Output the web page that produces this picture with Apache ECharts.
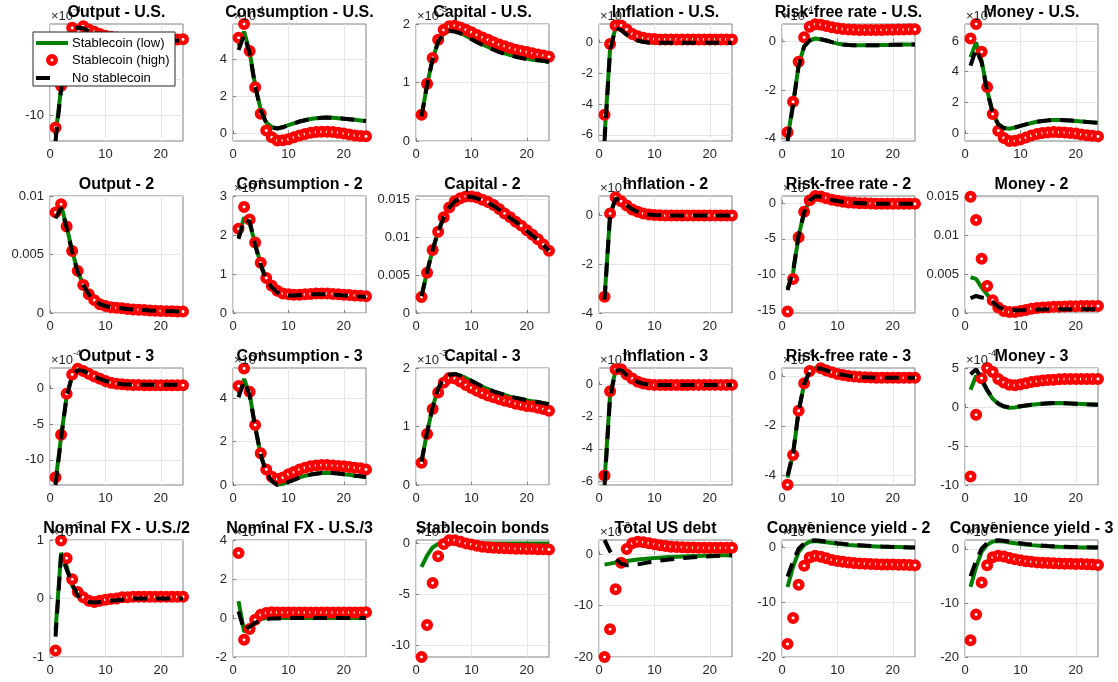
<!DOCTYPE html>
<html><head><meta charset="utf-8">
<script src="https://cdn.jsdelivr.net/npm/echarts@6/dist/echarts.min.js"></script>
<style>html,body{margin:0;padding:0;background:#fff}#c{width:1118px;height:682px}</style>
</head><body><div id="c"></div>
<script>
// ---------- DATA (quarters 1..24) ----------
const seriesNames = ['Stablecoin (low)', 'Stablecoin (high)', 'No stablecoin'];
const xTicks = [0, 10, 20];

// Row 1
const outUS_low  = [-12.8,-6.2,-1.2,1.7,2.35,2.25,1.85,1.45,1.15,0.95,0.8,0.7,0.62,0.57,0.54,0.52,0.51,0.5,0.5,0.5,0.5,0.5,0.5,0.5];
const outUS_high = [-11.7,-5.9,-1.0,2.26,2.85,2.5,2.04,1.7,1.4,1.15,1.0,0.9,0.82,0.76,0.72,0.69,0.67,0.65,0.64,0.63,0.63,0.63,0.64,0.65];
const outUS_none = [-13.6,-6.4,-1.3,1.6,2.3,2.2,1.8,1.4,1.1,0.9,0.75,0.65,0.58,0.54,0.52,0.51,0.5,0.5,0.5,0.5,0.5,0.5,0.5,0.5];

const consUS_low  = [4.7,5.5,4.4,2.6,1.3,0.6,0.35,0.28,0.35,0.45,0.55,0.65,0.72,0.78,0.82,0.85,0.86,0.85,0.83,0.8,0.77,0.74,0.71,0.68];
const consUS_high = [5.16,5.9,4.45,2.5,1.07,0.16,-0.2,-0.37,-0.36,-0.3,-0.2,-0.1,-0.02,0.04,0.08,0.1,0.1,0.08,0.05,0.0,-0.05,-0.1,-0.13,-0.15];
const consUS_none = [4.5,5.3,4.35,2.55,1.25,0.58,0.33,0.27,0.34,0.45,0.55,0.65,0.72,0.78,0.82,0.85,0.86,0.85,0.83,0.8,0.77,0.74,0.71,0.68];

const capUS_low  = [0.42,0.96,1.4,1.7,1.83,1.88,1.88,1.85,1.8,1.75,1.7,1.65,1.61,1.57,1.53,1.5,1.47,1.45,1.43,1.41,1.39,1.38,1.37,1.35];
const capUS_high = [0.45,0.98,1.42,1.73,1.9,1.96,1.97,1.94,1.9,1.86,1.81,1.77,1.73,1.69,1.65,1.62,1.59,1.56,1.54,1.52,1.5,1.48,1.46,1.44];
const capUS_none = [0.42,0.96,1.4,1.7,1.83,1.88,1.87,1.84,1.79,1.74,1.69,1.64,1.6,1.56,1.52,1.49,1.46,1.44,1.42,1.4,1.39,1.38,1.37,1.35];

const infUS_low  = [-6.1,-0.4,0.95,0.82,0.52,0.32,0.14,0.04,0.0,-0.02,-0.02,-0.02,-0.02,-0.02,-0.02,-0.02,-0.02,-0.02,-0.02,-0.02,-0.02,-0.02,-0.02,-0.02];
const infUS_high = [-4.7,-0.1,1.1,1.1,0.85,0.55,0.4,0.3,0.25,0.22,0.2,0.2,0.2,0.2,0.2,0.2,0.2,0.2,0.2,0.2,0.2,0.2,0.2,0.2];
const infUS_none = [-6.4,-0.5,0.95,0.8,0.5,0.3,0.12,0.03,0.0,-0.02,-0.02,-0.02,-0.02,-0.02,-0.02,-0.02,-0.02,-0.02,-0.02,-0.02,-0.02,-0.02,-0.02,-0.02];

const rfUS_low  = [-4.0,-2.55,-0.98,-0.18,0.06,0.13,0.1,0.05,-0.02,-0.08,-0.12,-0.14,-0.15,-0.15,-0.15,-0.15,-0.15,-0.14,-0.14,-0.13,-0.13,-0.12,-0.12,-0.12];
const rfUS_high = [-3.74,-2.48,-0.83,0.18,0.62,0.72,0.7,0.65,0.6,0.55,0.52,0.5,0.49,0.48,0.48,0.48,0.48,0.48,0.49,0.49,0.5,0.5,0.51,0.51];
const rfUS_none = [-4.1,-2.6,-1.0,-0.2,0.05,0.12,0.1,0.05,-0.02,-0.08,-0.12,-0.14,-0.15,-0.15,-0.15,-0.15,-0.15,-0.14,-0.14,-0.13,-0.13,-0.12,-0.12,-0.12];

const monUS_low  = [4.95,5.9,4.7,2.8,1.35,0.6,0.35,0.3,0.38,0.48,0.58,0.67,0.75,0.8,0.84,0.86,0.86,0.85,0.83,0.8,0.77,0.74,0.71,0.68];
const monUS_high = [6.16,7.1,5.3,3.0,1.25,0.17,-0.3,-0.5,-0.48,-0.4,-0.28,-0.15,-0.05,0.02,0.06,0.08,0.07,0.05,0.02,-0.02,-0.08,-0.12,-0.16,-0.2];
const monUS_none = [4.4,5.5,4.6,2.75,1.3,0.58,0.34,0.3,0.38,0.48,0.58,0.67,0.75,0.8,0.84,0.86,0.86,0.85,0.83,0.8,0.77,0.74,0.71,0.68];

// Row 2
const out2_low  = [0.0083,0.0092,0.0074,0.0053,0.0036,0.0024,0.0016,0.0011,0.00075,0.0006,0.0005,0.00045,0.0004,0.00035,0.0003,0.00028,0.00025,0.00022,0.0002,0.00018,0.00016,0.00015,0.00013,0.00012];
const out2_high = [0.0086,0.0093,0.0074,0.0053,0.0036,0.0024,0.0016,0.0011,0.00075,0.0006,0.0005,0.00045,0.0004,0.00035,0.0003,0.00028,0.00025,0.00022,0.0002,0.00018,0.00016,0.00015,0.00013,0.00012];
const out2_none = [0.0081,0.009,0.0073,0.0052,0.0035,0.0024,0.0016,0.0011,0.00075,0.0006,0.0005,0.00045,0.0004,0.00035,0.0003,0.00028,0.00025,0.00022,0.0002,0.00018,0.00016,0.00015,0.00013,0.00012];

const cons2_low  = [1.95,2.45,2.3,1.78,1.25,0.88,0.67,0.54,0.48,0.46,0.45,0.46,0.47,0.48,0.48,0.48,0.48,0.47,0.46,0.45,0.44,0.43,0.42,0.41];
const cons2_high = [2.16,2.72,2.4,1.81,1.29,0.9,0.7,0.57,0.5,0.48,0.47,0.47,0.48,0.49,0.5,0.5,0.5,0.49,0.48,0.47,0.46,0.45,0.44,0.43];
const cons2_none = [1.9,2.4,2.35,1.75,1.22,0.86,0.66,0.53,0.47,0.45,0.45,0.46,0.47,0.48,0.48,0.48,0.48,0.47,0.46,0.45,0.44,0.43,0.42,0.41];

const cap2_low  = [0.0022,0.0054,0.0083,0.0107,0.0126,0.0139,0.0147,0.0151,0.0153,0.0153,0.0151,0.0148,0.0145,0.0141,0.0136,0.0131,0.0125,0.012,0.0114,0.0108,0.0102,0.0096,0.0089,0.0082];
const cap2_high = [0.0021,0.0053,0.0083,0.0107,0.0126,0.0139,0.0147,0.0151,0.01535,0.01535,0.0152,0.0149,0.0146,0.0142,0.0137,0.0131,0.0126,0.012,0.0115,0.0109,0.0103,0.0097,0.009,0.0082];
const cap2_none = [0.0022,0.0054,0.0083,0.0107,0.0126,0.0139,0.0147,0.0151,0.0153,0.0153,0.0151,0.0148,0.0145,0.0141,0.0136,0.0131,0.0125,0.012,0.0114,0.0108,0.0102,0.0096,0.0089,0.0082];

const inf2_low  = [-3.4,0.05,0.72,0.6,0.42,0.25,0.15,0.08,0.04,0.02,0.01,0,0,0,0,0,0,0,0,0,0,0,0,0];
const inf2_high = [-3.33,0.08,0.75,0.58,0.41,0.25,0.15,0.08,0.04,0.02,0.01,0,0,0,0,0,0,0,0,0,0,0,0,0];
const inf2_none = [-3.45,0.0,0.7,0.6,0.42,0.25,0.15,0.08,0.04,0.02,0.01,0,0,0,0,0,0,0,0,0,0,0,0,0];

const rf2_low  = [-12.0,-9.8,-4.6,-1.25,0.42,0.97,0.9,0.68,0.45,0.3,0.18,0.1,0.04,0.0,-0.03,-0.05,-0.07,-0.08,-0.09,-0.1,-0.1,-0.1,-0.1,-0.1];
const rf2_high = [-15.2,-10.65,-4.77,-1.2,0.42,1.0,0.93,0.7,0.46,0.32,0.19,0.1,0.05,0.0,-0.03,-0.05,-0.07,-0.08,-0.1,-0.1,-0.1,-0.1,-0.1,-0.1];
const rf2_none = [-12.2,-9.5,-4.5,-1.3,0.4,0.95,0.9,0.68,0.45,0.3,0.18,0.1,0.04,0.0,-0.03,-0.05,-0.07,-0.08,-0.09,-0.1,-0.1,-0.1,-0.1,-0.1];

const mon2_low  = [0.0046,0.0044,0.0033,0.0024,0.0015,0.0008,0.0005,0.0004,0.00038,0.0004,0.00042,0.00044,0.00046,0.00048,0.0005,0.0005,0.0005,0.0005,0.0005,0.0005,0.0005,0.0005,0.0005,0.0005];
const mon2_high = [0.015,0.012,0.007,0.00347,0.00163,0.0007,0.00026,0.00013,0.00013,0.00026,0.0004,0.00056,0.00065,0.0007,0.00075,0.0008,0.00082,0.00085,0.00087,0.00088,0.0009,0.0009,0.0009,0.0009];
const mon2_none = [0.0019,0.0022,0.002,0.0019,0.0014,0.0008,0.0005,0.0004,0.00035,0.00037,0.0004,0.00042,0.00044,0.00046,0.00048,0.0005,0.0005,0.0005,0.0005,0.0005,0.0005,0.0005,0.0005,0.0005];

// Row 3
const out3_low  = [-13.0,-6.8,-1.1,1.75,2.5,2.4,2.0,1.6,1.3,1.0,0.8,0.65,0.55,0.5,0.48,0.47,0.46,0.45,0.45,0.45,0.45,0.45,0.45,0.45];
const out3_high = [-12.43,-6.5,-0.78,1.91,2.7,2.37,2.0,1.63,1.3,0.98,0.75,0.6,0.52,0.47,0.44,0.42,0.41,0.4,0.4,0.4,0.4,0.4,0.4,0.4];
const out3_none = [-13.5,-7.0,-1.2,1.7,2.5,2.4,2.0,1.6,1.3,1.0,0.8,0.65,0.55,0.5,0.48,0.47,0.46,0.45,0.45,0.45,0.45,0.45,0.45,0.45];

const cons3_low  = [4.2,4.9,4.2,2.7,1.4,0.6,0.2,0.02,0.05,0.15,0.25,0.35,0.42,0.48,0.52,0.55,0.56,0.55,0.53,0.5,0.47,0.43,0.4,0.37];
const cons3_high = [4.57,5.38,4.3,2.77,1.46,0.72,0.38,0.28,0.35,0.5,0.6,0.72,0.8,0.87,0.9,0.92,0.92,0.9,0.88,0.86,0.83,0.8,0.77,0.72];
const cons3_none = [4.05,4.8,4.15,2.68,1.38,0.58,0.18,0.0,0.04,0.14,0.24,0.34,0.42,0.48,0.52,0.55,0.56,0.55,0.53,0.5,0.47,0.43,0.4,0.37];

const cap3_low  = [0.4,0.9,1.33,1.65,1.82,1.88,1.9,1.87,1.83,1.78,1.73,1.68,1.64,1.6,1.57,1.54,1.51,1.49,1.47,1.45,1.43,1.42,1.4,1.38];
const cap3_high = [0.38,0.87,1.3,1.58,1.75,1.83,1.82,1.77,1.71,1.66,1.61,1.57,1.53,1.5,1.47,1.44,1.42,1.39,1.37,1.35,1.34,1.32,1.3,1.27];
const cap3_none = [0.4,0.9,1.33,1.65,1.82,1.88,1.9,1.87,1.83,1.78,1.73,1.68,1.64,1.6,1.57,1.54,1.51,1.49,1.47,1.45,1.43,1.42,1.4,1.38];

const inf3_low  = [-6.0,-0.6,0.88,0.9,0.6,0.35,0.15,0.05,0.0,-0.02,-0.03,-0.03,-0.03,-0.03,-0.03,-0.03,-0.02,-0.02,-0.02,-0.02,-0.02,-0.02,-0.02,-0.02];
const inf3_high = [-5.66,-0.42,0.95,0.95,0.63,0.38,0.17,0.06,0.0,-0.02,-0.03,-0.03,-0.03,-0.03,-0.03,-0.03,-0.02,-0.02,-0.02,-0.02,-0.02,-0.02,-0.02,-0.02];
const inf3_none = [-6.25,-0.8,0.85,0.9,0.6,0.35,0.15,0.05,0.0,-0.02,-0.03,-0.03,-0.03,-0.03,-0.03,-0.03,-0.02,-0.02,-0.02,-0.02,-0.02,-0.02,-0.02,-0.02];

const rf3_low  = [-4.1,-3.15,-1.4,-0.3,0.21,0.35,0.33,0.25,0.17,0.11,0.07,0.03,0.0,-0.02,-0.03,-0.04,-0.05,-0.05,-0.05,-0.05,-0.05,-0.05,-0.05,-0.05];
const rf3_high = [-4.39,-3.18,-1.39,-0.27,0.23,0.37,0.34,0.25,0.18,0.11,0.07,0.03,0.0,-0.02,-0.03,-0.04,-0.05,-0.05,-0.05,-0.05,-0.05,-0.05,-0.05,-0.05];
const rf3_none = [-4.02,-3.1,-1.4,-0.3,0.2,0.35,0.33,0.25,0.17,0.11,0.07,0.03,0.0,-0.02,-0.03,-0.04,-0.05,-0.05,-0.05,-0.05,-0.05,-0.05,-0.05,-0.05];

const mon3_low  = [2.2,4.0,3.4,2.1,1.05,0.4,0.05,-0.1,-0.05,0.07,0.18,0.28,0.36,0.42,0.46,0.49,0.5,0.48,0.46,0.43,0.4,0.36,0.33,0.3];
const mon3_high = [-8.9,-1.0,3.7,5.0,4.5,3.6,3.15,2.85,2.8,2.9,3.05,3.2,3.3,3.4,3.45,3.5,3.55,3.58,3.6,3.6,3.6,3.6,3.6,3.6];
const mon3_none = [4.2,4.85,3.6,2.2,1.1,0.45,0.1,-0.05,0.0,0.1,0.2,0.3,0.38,0.43,0.47,0.5,0.5,0.48,0.46,0.43,0.4,0.36,0.33,0.3];

// Row 4
const fx2_low  = [-0.55,0.78,0.55,0.22,0.05,-0.03,-0.06,-0.07,-0.06,-0.05,-0.04,-0.03,-0.02,-0.01,0,0,0,0,0,0,0,0,0,0];
const fx2_high = [-0.89,0.99,0.69,0.33,0.11,0.02,-0.04,-0.06,-0.04,-0.02,-0.01,0.0,0.02,0.02,0.03,0.03,0.03,0.03,0.03,0.03,0.03,0.03,0.03,0.03];
const fx2_none = [-0.65,0.75,0.5,0.25,0.05,-0.03,-0.06,-0.07,-0.06,-0.05,-0.04,-0.03,-0.02,-0.01,0,0,0,0,0,0,0,0,0,0];

const fx3_low  = [0.86,-0.7,-0.5,-0.15,-0.05,0,0,0,0,0,0,0,0,0,0,0,0,0,0,0,0,0,0,0];
const fx3_high = [3.33,-1.12,-0.57,-0.09,0.17,0.26,0.29,0.28,0.28,0.28,0.28,0.28,0.28,0.28,0.28,0.28,0.28,0.28,0.28,0.28,0.28,0.28,0.28,0.29];
const fx3_none = [0.34,-0.64,-0.45,-0.25,-0.12,-0.06,-0.03,-0.02,-0.01,0,0,0,0,0,0,0,0,0,0,0,0,0,0,0];

const sb_low  = [-2.3,-1.2,-0.4,-0.05,0.05,0.05,0.03,0.02,0.01,0,0,0,0,0,0,0,0,0,0,0,0,0,0,0];
const sb_high = [-11.1,-7.97,-3.87,-1.25,-0.07,0.3,0.3,0.16,0.0,-0.1,-0.23,-0.33,-0.38,-0.42,-0.45,-0.48,-0.5,-0.52,-0.53,-0.55,-0.56,-0.57,-0.58,-0.59];
const sb_none = [];

const debt_low  = [-2.0,-1.8,-1.6,-1.45,-1.3,-1.15,-1.0,-0.9,-0.8,-0.72,-0.65,-0.58,-0.52,-0.47,-0.42,-0.38,-0.34,-0.3,-0.27,-0.24,-0.21,-0.19,-0.17,-0.15];
const debt_high = [-20.0,-14.6,-6.8,-1.63,1.04,2.15,2.48,2.35,2.15,1.95,1.76,1.63,1.5,1.45,1.4,1.35,1.32,1.3,1.28,1.27,1.27,1.27,1.28,1.3];
const debt_none = [2.8,0.6,-0.9,-1.8,-2.1,-2.1,-1.95,-1.75,-1.55,-1.38,-1.22,-1.08,-0.96,-0.85,-0.75,-0.66,-0.58,-0.5,-0.43,-0.37,-0.31,-0.26,-0.21,-0.17];

const cy2_low  = [-7.2,-3.5,-0.8,0.5,1.1,1.2,1.1,1.0,0.85,0.7,0.6,0.5,0.42,0.36,0.3,0.26,0.22,0.18,0.15,0.12,0.1,0.08,0.06,0.05];
const cy2_high = [-17.6,-12.85,-6.8,-3.3,-1.8,-1.5,-1.65,-1.95,-2.25,-2.42,-2.6,-2.73,-2.82,-2.9,-2.95,-3.0,-3.03,-3.06,-3.08,-3.1,-3.12,-3.14,-3.16,-3.2];
const cy2_none = [-5.3,-2.5,-0.2,0.8,1.3,1.35,1.25,1.1,0.95,0.82,0.7,0.6,0.52,0.45,0.38,0.32,0.27,0.22,0.18,0.14,0.1,0.07,0.04,0.02];

const cy3_low  = [-7.0,-3.3,-0.5,0.8,1.4,1.5,1.4,1.25,1.1,0.95,0.85,0.75,0.66,0.58,0.52,0.47,0.43,0.4,0.37,0.35,0.33,0.31,0.3,0.29];
const cy3_high = [-16.9,-12.1,-6.2,-3.0,-1.5,-1.2,-1.35,-1.65,-1.85,-2.05,-2.25,-2.35,-2.45,-2.52,-2.58,-2.62,-2.66,-2.7,-2.72,-2.75,-2.77,-2.8,-2.85,-2.95];
const cy3_none = [-5.0,-2.2,0.1,1.1,1.6,1.65,1.55,1.4,1.25,1.1,0.95,0.85,0.75,0.67,0.6,0.55,0.5,0.46,0.42,0.39,0.36,0.34,0.32,0.3];

// Panel titles, exponent labels, y ranges, y tick labels
const titles = ['Output - U.S.','Consumption - U.S.','Capital - U.S.','Inflation - U.S.','Risk-free rate - U.S.','Money - U.S.',
  'Output - 2','Consumption - 2','Capital - 2','Inflation - 2','Risk-free rate - 2','Money - 2',
  'Output - 3','Consumption - 3','Capital - 3','Inflation - 3','Risk-free rate - 3','Money - 3',
  'Nominal FX - U.S./2','Nominal FX - U.S./3','Stablecoin bonds','Total US debt','Convenience yield - 2','Convenience yield - 3'];
const exponents = ['-4','-4','-3','-4','-4','-4', '','-3','','-3','-4','', '-4','-4','-3','-4','-4','-4', '-3','-4','-3','-3','-5','-5'];
const yMin = [-13.6,-0.4,0,-6.4,-4.1,-0.5, 0,0,0,-4,-15.4,0, -13.5,0,0,-6.25,-4.4,-10, -1,-2,-11.1,-20,-20,-20];
const yMax = [2.8,5.9,2,1.2,0.73,7.1, 0.01,3,0.0154,0.8,1.0,0.0151, 2.8,5.4,2,1.03,0.35,5, 1,4,0.33,2.8,1.4,1.7];
const yTicks = [[-10,-5,0],[0,2,4],[0,1,2],[-6,-4,-2,0],[-4,-2,0],[0,2,4,6],
  [0,0.005,0.01],[0,1,2,3],[0,0.005,0.01,0.015],[-4,-2,0],[-15,-10,-5,0],[0,0.005,0.01,0.015],
  [-10,-5,0],[0,2,4],[0,1,2],[-6,-4,-2,0],[-4,-2,0],[-10,-5,0,5],
  [-1,0,1],[-2,0,2,4],[-10,-5,0],[-20,-10,0],[-20,-10,0],[-20,-10,0]];

const lowSet  = [outUS_low,consUS_low,capUS_low,infUS_low,rfUS_low,monUS_low,out2_low,cons2_low,cap2_low,inf2_low,rf2_low,mon2_low,out3_low,cons3_low,cap3_low,inf3_low,rf3_low,mon3_low,fx2_low,fx3_low,sb_low,debt_low,cy2_low,cy3_low];
const highSet = [outUS_high,consUS_high,capUS_high,infUS_high,rfUS_high,monUS_high,out2_high,cons2_high,cap2_high,inf2_high,rf2_high,mon2_high,out3_high,cons3_high,cap3_high,inf3_high,rf3_high,mon3_high,fx2_high,fx3_high,sb_high,debt_high,cy2_high,cy3_high];
const noneSet = [outUS_none,consUS_none,capUS_none,infUS_none,rfUS_none,monUS_none,out2_none,cons2_none,cap2_none,inf2_none,rf2_none,mon2_none,out3_none,cons3_none,cap3_none,inf3_none,rf3_none,mon3_none,fx2_none,fx3_none,sb_none,debt_none,cy2_none,cy3_none];

// ---------- LAYOUT / STYLE ----------
const FONT = '"Liberation Sans", Arial, Helvetica, sans-serif';
const GX0 = 50, GY0 = 24, DX = 183, DY = 172, GW = 133, GH = 117;
const AX = '#262626', BOX = '#808080', GRID = '#e6e6e6';
const toPairs = a => a.map((v, k) => [k + 1, v]);

const grids = [], xAxes = [], yAxes = [], series = [], graphics = [];
titles.forEach((t, i) => {
  const r = Math.floor(i / 6), c = i % 6;
  const left = GX0 + c * DX, top = GY0 + r * DY;
  grids.push({left, top, width: GW, height: GH, show: true, borderColor: BOX, borderWidth: 1, backgroundColor: '#fff'});
  xAxes.push({gridIndex: i, type: 'value', min: 0, max: 24,
    axisLine: {show: false},
    axisTick: {show: true, inside: true, length: 3, customValues: xTicks, lineStyle: {color: BOX}},
    axisLabel: {customValues: xTicks, fontSize: 13, color: AX, fontFamily: FONT, margin: 7},
    splitLine: {show: true, lineStyle: {color: GRID, width: 1}}});
  yAxes.push({gridIndex: i, type: 'value', min: yMin[i], max: yMax[i],
    axisLine: {show: false},
    axisTick: {show: true, inside: true, length: 3, customValues: yTicks[i], lineStyle: {color: BOX}},
    axisLabel: {customValues: yTicks[i], fontSize: 13, color: AX, fontFamily: FONT, margin: 6, formatter: v => String(v)},
    splitLine: {show: true, lineStyle: {color: GRID, width: 1}}});
  series.push({type: 'line', name: seriesNames[0], xAxisIndex: i, yAxisIndex: i, data: toPairs(lowSet[i]),
    symbol: 'none', lineStyle: {color: '#008000', width: 4}, itemStyle: {color: '#008000'}, z: 2});
  series.push({type: 'scatter', name: seriesNames[1], xAxisIndex: i, yAxisIndex: i, data: toPairs(highSet[i]),
    symbol: 'circle', symbolSize: 7.5, itemStyle: {color: '#ffffff', borderColor: '#ff0000', borderWidth: 4.5, opacity: 1}, z: 3});
  series.push({type: 'line', name: seriesNames[2], xAxisIndex: i, yAxisIndex: i, data: toPairs(noneSet[i]),
    symbol: 'none', lineStyle: {color: '#000000', width: 4, type: [14, 9]}, itemStyle: {color: '#000'}, z: 4});
  if (exponents[i]) {
    graphics.push({type: 'text', x: left + 1, y: top - 8, z: 10,
      style: {text: '×10', fontSize: 13, fontFamily: FONT, fill: AX, align: 'left', verticalAlign: 'middle', textAlign: 'left', textVerticalAlign: 'middle'}});
    graphics.push({type: 'text', x: left + 23, y: top - 14, z: 10,
      style: {text: exponents[i], fontSize: 9, fontFamily: FONT, fill: AX, align: 'left', verticalAlign: 'middle', textAlign: 'left', textVerticalAlign: 'middle'}});
  }
  graphics.push({type: 'text', x: left + GW / 2, y: top - 11, z: 20,
    style: {text: t, fontSize: 16, fontWeight: 'bold', fontFamily: FONT, fill: '#000', align: 'center', verticalAlign: 'middle', textAlign: 'center', textVerticalAlign: 'middle'}});
});

// Legend box (drawn over first panel like the original)
const LX = 33, LY = 32;
graphics.push({type: 'rect', z: 50, shape: {x: LX, y: LY, width: 142, height: 54}, style: {fill: '#fff', stroke: AX, lineWidth: 1}});
graphics.push({type: 'line', z: 51, shape: {x1: LX + 3, y1: LY + 11, x2: LX + 35, y2: LY + 11}, style: {stroke: '#008000', lineWidth: 4}});
graphics.push({type: 'circle', z: 51, shape: {cx: LX + 19, cy: LY + 28, r: 3.75}, style: {fill: '#fff', stroke: '#ff0000', lineWidth: 4.5}});
graphics.push({type: 'line', z: 51, shape: {x1: LX + 3, y1: LY + 46, x2: LX + 17, y2: LY + 46}, style: {stroke: '#000', lineWidth: 4}});
seriesNames.forEach((n, k) => {
  graphics.push({type: 'text', z: 52, x: LX + 39, y: LY + 11 + k * 17.5,
    style: {text: n, fontSize: 13, fontFamily: FONT, fill: '#000', align: 'left', verticalAlign: 'middle', textAlign: 'left', textVerticalAlign: 'middle'}});
});

const chart = echarts.init(document.getElementById('c'), null, {renderer: 'canvas'});
chart.setOption({
  animation: false,
  backgroundColor: '#fff',
  textStyle: {fontFamily: FONT},
  grid: grids, xAxis: xAxes, yAxis: yAxes, series: series, graphic: graphics
});
</script>
</body></html>
